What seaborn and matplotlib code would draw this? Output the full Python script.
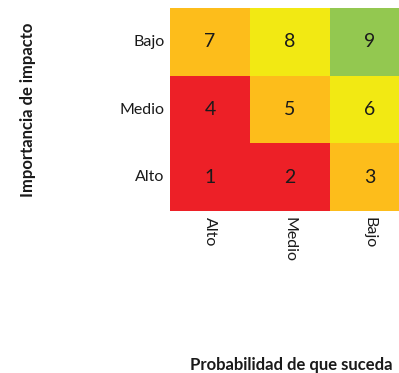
import matplotlib
matplotlib.use("Agg")
import matplotlib.pyplot as plt
from matplotlib.colors import ListedColormap
import seaborn as sns
import pandas as pd

# risk matrix: rows = impacto (top to bottom), cols = probabilidad
impacto = ["Bajo", "Medio", "Alto"]
probabilidad = ["Alto", "Medio", "Bajo"]
puntaje = [[7, 8, 9],
           [4, 5, 6],
           [1, 2, 3]]
# 0 = rojo, 1 = naranja, 2 = amarillo, 3 = verde
nivel = [[1, 2, 3],
         [0, 1, 2],
         [0, 0, 1]]
colores = ["#ED2027", "#FDBD1B", "#F2E913", "#93C850"]

sns.set_theme(style="white")
plt.rcParams["font.family"] = ["Lato", "DejaVu Sans"]

df_nivel = pd.DataFrame(nivel, index=impacto, columns=probabilidad)
df_puntaje = pd.DataFrame(puntaje, index=impacto, columns=probabilidad)

fig = plt.figure(figsize=(3.99, 3.73), dpi=100)
ax = fig.add_axes([170 / 399, 1 - 211 / 373, 240 / 399, 203 / 373])

sns.heatmap(df_nivel, ax=ax, cmap=ListedColormap(colores), vmin=-0.5, vmax=3.5,
            annot=df_puntaje, fmt="d", cbar=False,
            annot_kws={"fontsize": 14, "color": "#1a1a1a"})

ax.tick_params(axis="both", length=0, pad=4, labelsize=11.5, colors="#1a1a1a")
ax.set_xticklabels(probabilidad, rotation=270)
ax.set_yticklabels(impacto, rotation=0)
ax.set_xlabel("Probabilidad de que suceda", fontsize=12, fontweight="bold",
              color="#1a1a1a")
ax.xaxis.set_label_coords(0.504, -0.72)
ax.set_ylabel("Importancia de impacto", fontsize=12, fontweight="bold",
              labelpad=60, color="#1a1a1a")

fig.savefig("out.png", dpi=100)
